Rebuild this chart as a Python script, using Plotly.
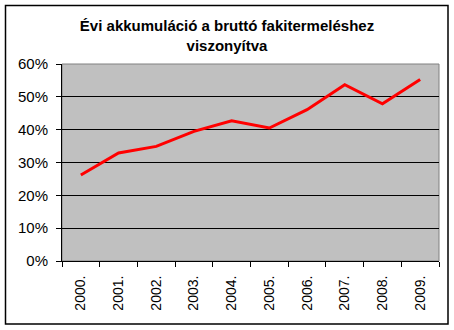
import plotly.graph_objects as go

years = ["2000.", "2001.", "2002.", "2003.", "2004.", "2005.", "2006.", "2007.", "2008.", "2009."]
values = [0.262, 0.329, 0.349, 0.395, 0.427, 0.405, 0.461, 0.537, 0.479, 0.553]
y_ticks = [0, 0.1, 0.2, 0.3, 0.4, 0.5, 0.6]
y_tick_labels = ["0%", "10%", "20%", "30%", "40%", "50%", "60%"]
title_text = "Évi akkumuláció a bruttó fakitermeléshez<br>viszonyítva"

W, H = 454, 330
ML, MR, MT, MB = 62, 15, 64, 69
pw = W - ML - MR
ph = H - MT - MB

def px(x):
    return (x - ML) / pw

def py(y):
    return (H - MB - y) / ph

fig = go.Figure()
fig.add_trace(go.Scatter(
    x=years, y=values, mode="lines",
    line=dict(color="#FF0000", width=3),
    hoverinfo="skip", showlegend=False,
))

fig.update_layout(
    width=W, height=H,
    margin=dict(l=ML, r=MR, t=MT, b=MB, pad=0),
    paper_bgcolor="white",
    plot_bgcolor="#C0C0C0",
    font=dict(family="Liberation Sans, Arial", color="black", size=13),
    title=dict(
        text="<b>" + title_text + "</b>",
        x=0.5, xanchor="center", xref="container",
        y=1 - 31 / H, yanchor="top", yref="container",
        font=dict(size=15, family="Liberation Sans, Arial", color="black"),
    ),
    xaxis=dict(
        type="category",
        tickangle=-90,
        ticks="outside", ticklen=5, tickwidth=1, tickcolor="black",
        tickson="boundaries",
        ticklabelstandoff=8,
        showline=True, linecolor="black", linewidth=1,
        showgrid=False, zeroline=False,
        tickfont=dict(size=14),
        range=[-0.5, len(years) - 0.5],
        fixedrange=True,
    ),
    yaxis=dict(
        range=[0, 0.6],
        tickvals=y_ticks, ticktext=y_tick_labels,
        ticks="outside", ticklen=5, tickwidth=1, tickcolor="black",
        ticklabelstandoff=5,
        showline=True, linecolor="black", linewidth=1,
        showgrid=True, gridcolor="black", gridwidth=1,
        zeroline=False,
        tickfont=dict(size=15),
        fixedrange=True,
    ),
    shapes=[
        dict(type="rect", xref="paper", yref="paper", x0=0, x1=1, y0=0, y1=1,
             line=dict(color="#808080", width=1), layer="below"),
        dict(type="rect", xref="paper", yref="paper",
             x0=px(5.5), x1=px(448), y0=py(324), y1=py(5.5),
             line=dict(color="black", width=1.5)),
    ],
)

fig.write_html("out.html")
